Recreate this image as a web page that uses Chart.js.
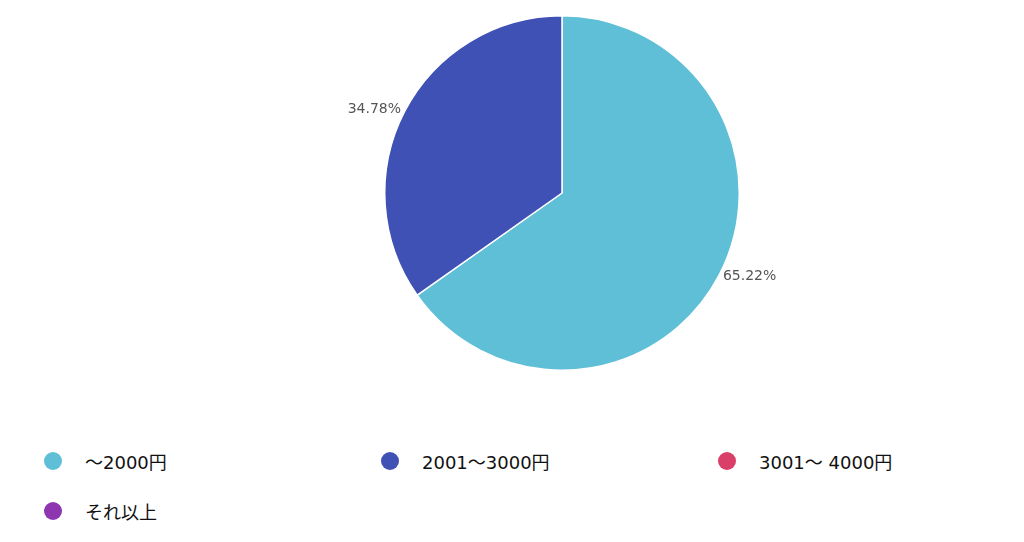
<!DOCTYPE html>
<html>
<head>
<meta charset="utf-8">
<script src="https://cdn.jsdelivr.net/npm/chart.js@4"></script>
<style>
    body { margin: 0; background: #fff; font-family: "DejaVu Sans", "Noto Sans CJK JP", sans-serif; }
    #wrap { position: relative; width: 1024px; height: 386px; }
    #legend { position: absolute; top: 438px; left: 0; width: 1024px; }
    .item { position: absolute; display: flex; align-items: center; font-size: 18px; color: #111; white-space: nowrap; }
    .dot { width: 18px; height: 18px; border-radius: 50%; margin-right: 23px; }
</style>
</head>
<body>
<div id="wrap"><canvas id="pie"></canvas></div>
<div id="legend"></div>
<script>
const labels = ['～2000円', '2001～3000円', '3001～ 4000円', 'それ以上'];
const counts = [15, 8, 0, 0];
const colors = ['#5FBFD7', '#3F51B5', '#D93F69', '#8E36AF'];

// percent labels outside each slice
const outLabels = {
    id: 'outLabels',
    afterDatasetsDraw(chart) {
        const ctx = chart.ctx;
        const total = counts.reduce((a, b) => a + b, 0);
        const meta = chart.getDatasetMeta(0);
        ctx.save();
        ctx.font = '14px "DejaVu Sans"';
        ctx.fillStyle = '#555';
        ctx.textBaseline = 'middle';
        meta.data.forEach((arc, i) => {
            if (!counts[i]) return;
            const mid = (arc.startAngle + arc.endAngle) / 2;
            const r = arc.outerRadius + 4;
            const x = arc.x + Math.cos(mid) * r;
            const y = arc.y + Math.sin(mid) * r;
            ctx.textAlign = Math.cos(mid) < 0 ? 'right' : 'left';
            ctx.fillText((counts[i] / total * 100).toFixed(2) + '%', x, y);
        });
        ctx.restore();
    }
};

new Chart(document.getElementById('pie'), {
    type: 'pie',
    data: { labels: labels, datasets: [{ data: counts, backgroundColor: colors, borderColor: '#fff', borderWidth: 1.5 }] },
    options: {
        responsive: true,
        maintainAspectRatio: false,
        animation: false,
        layout: { padding: { left: 115, right: 15, top: 15, bottom: 15 } },
        plugins: { legend: { display: false }, tooltip: { enabled: false } }
    },
    plugins: [outLabels]
});

// legend grid, 3 columns
const legend = document.getElementById('legend');
labels.forEach((l, i) => {
    const col = i % 3, row = Math.floor(i / 3);
    const div = document.createElement('div');
    div.className = 'item';
    div.style.left = (44 + col * 337) + 'px';
    div.style.top = (row * 50 + 10) + 'px';
    div.innerHTML = '<span class="dot" style="background:' + colors[i] + '"></span>' + l;
    legend.appendChild(div);
});
</script>
</body>
</html>
